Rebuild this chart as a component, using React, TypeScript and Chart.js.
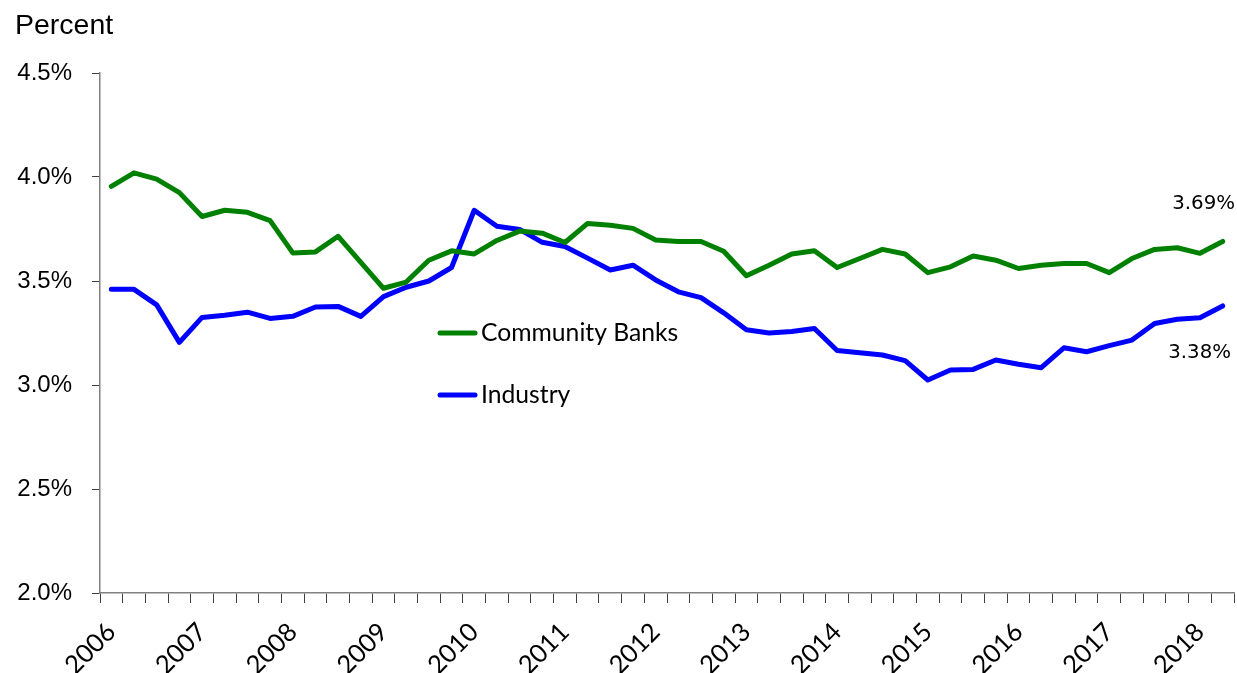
import { useEffect, useRef } from 'react';
import { Chart, registerables } from 'chart.js';

Chart.register(...registerables);

const years = ['2006', '2007', '2008', '2009', '2010', '2011', '2012', '2013', '2014', '2015', '2016', '2017', '2018'];
const quarters = ['Q1', 'Q2', 'Q3', 'Q4'];
const categories = years.flatMap((y) => quarters.map((q) => `${y} ${q}`)).slice(0, 50);

const seriesNames = ['Community Banks', 'Industry'];
const seriesColors = ['#008000', '#0000FF'];

const communityBanks = [
  3.955, 4.02, 3.99, 3.925, 3.81, 3.84, 3.83, 3.79, 3.635, 3.64,
  3.715, 3.59, 3.465, 3.495, 3.6, 3.645, 3.63, 3.695, 3.74, 3.73,
  3.685, 3.777, 3.768, 3.753, 3.697, 3.69, 3.69, 3.643, 3.525, 3.576,
  3.63, 3.645, 3.565, 3.608, 3.652, 3.63, 3.54, 3.568, 3.62, 3.6,
  3.56, 3.576, 3.584, 3.584, 3.54, 3.608, 3.652, 3.66, 3.633, 3.69,
];

const industry = [
  3.46, 3.46, 3.385, 3.205, 3.325, 3.335, 3.35, 3.32, 3.33, 3.375,
  3.378, 3.33, 3.425, 3.47, 3.5, 3.565, 3.84, 3.763, 3.748, 3.686,
  3.666, 3.61, 3.553, 3.576, 3.505, 3.448, 3.42, 3.347, 3.266, 3.25,
  3.257, 3.272, 3.166, 3.155, 3.144, 3.117, 3.024, 3.072, 3.075, 3.12,
  3.1, 3.083, 3.179, 3.16, 3.189, 3.216, 3.296, 3.316, 3.323, 3.38,
];

const yMin = 2.0;
const yMax = 4.5;
const yStep = 0.5;

const overlayPlugin = {
  id: 'overlay',
  afterDatasetsDraw(chart: any) {
    const ctx = chart.ctx as CanvasRenderingContext2D;
    ctx.save();
    // axis title
    ctx.fillStyle = '#000';
    ctx.font = '28.5px "Liberation Sans", Arial, sans-serif';
    ctx.textAlign = 'left';
    ctx.textBaseline = 'alphabetic';
    ctx.fillText('Percent', 15, 34);

    // in-chart legend
    const legendY = [333, 395];
    chart.data.datasets.forEach((ds: any, i: number) => {
      const y = legendY[i];
      ctx.strokeStyle = ds.borderColor;
      ctx.lineWidth = 5;
      ctx.lineCap = 'round';
      ctx.beginPath();
      ctx.moveTo(440, y);
      ctx.lineTo(475, y);
      ctx.stroke();
      ctx.fillStyle = '#000';
      ctx.font = '24.7px Lato, sans-serif';
      ctx.textAlign = 'left';
      ctx.textBaseline = 'middle';
      ctx.fillText(ds.label, 481, y);
    });

    // end-value labels
    const offsets = [
      { dx: -19, dy: -38 },
      { dx: -23, dy: 47 },
    ];
    chart.data.datasets.forEach((ds: any, i: number) => {
      const meta = chart.getDatasetMeta(i);
      const pt = meta.data[meta.data.length - 1];
      const v = ds.data[ds.data.length - 1] as number;
      ctx.fillStyle = '#000';
      ctx.font = '19.8px "DejaVu Sans", sans-serif';
      ctx.textAlign = 'center';
      ctx.textBaseline = 'middle';
      ctx.fillText(`${v.toFixed(2)}%`, pt.x + offsets[i].dx, pt.y + offsets[i].dy);
    });
    ctx.restore();
  },
};

export default function App() {
  const canvasRef = useRef<HTMLCanvasElement | null>(null);

  useEffect(() => {
    if (!canvasRef.current) return;
    const chart = new Chart(canvasRef.current, {
      type: 'line',
      data: {
        labels: categories,
        datasets: [
          {
            label: seriesNames[0],
            data: communityBanks,
            borderColor: seriesColors[0],
            backgroundColor: seriesColors[0],
            borderWidth: 5,
            pointRadius: 0,
            tension: 0,
            borderJoinStyle: 'round',
            borderCapStyle: 'round',
          },
          {
            label: seriesNames[1],
            data: industry,
            borderColor: seriesColors[1],
            backgroundColor: seriesColors[1],
            borderWidth: 5,
            pointRadius: 0,
            tension: 0,
            borderJoinStyle: 'round',
            borderCapStyle: 'round',
          },
        ],
      },
      options: {
        animation: false,
        responsive: true,
        maintainAspectRatio: false,
        devicePixelRatio: 1,
        layout: { padding: { top: 73, right: 3, left: 0, bottom: 0 } },
        plugins: {
          legend: { display: false },
          tooltip: { enabled: false },
          title: { display: false },
        },
        scales: {
          x: {
            type: 'category',
            offset: true,
            afterFit: (scale: any) => {
              scale.height = 80;
              scale.paddingLeft = 0;
              scale.paddingRight = 0;
            },
            grid: {
              offset: true,
              drawOnChartArea: false,
              drawTicks: true,
              tickLength: 10,
              color: '#404040',
            },
            border: { display: true, color: '#808080', width: 1.5 },
            ticks: {
              autoSkip: false,
              maxRotation: 45,
              minRotation: 45,
              padding: 14,
              color: '#000',
              font: { family: 'Lato', size: 25.5 },
              callback: (_v: any, index: number) => (index % 4 === 0 ? years[index / 4] : ''),
            },
          },
          y: {
            min: yMin,
            max: yMax,
            afterFit: (scale: any) => {
              scale.width = 100;
            },
            grid: {
              drawOnChartArea: false,
              drawTicks: true,
              tickLength: 8,
              color: '#404040',
            },
            border: { display: true, color: '#808080', width: 1.5 },
            ticks: {
              stepSize: yStep,
              padding: 20,
              color: '#000',
              font: { family: '"Liberation Sans", Arial', size: 24 },
              callback: (v: any) => `${Number(v).toFixed(1)}%`,
            },
          },
        },
      },
      plugins: [overlayPlugin],
    });
    return () => chart.destroy();
  }, []);

  return (
    <div style={{ position: 'absolute', left: 0, top: 0, width: 1237, height: 673, background: '#fff' }}>
      <canvas ref={canvasRef} />
    </div>
  );
}
